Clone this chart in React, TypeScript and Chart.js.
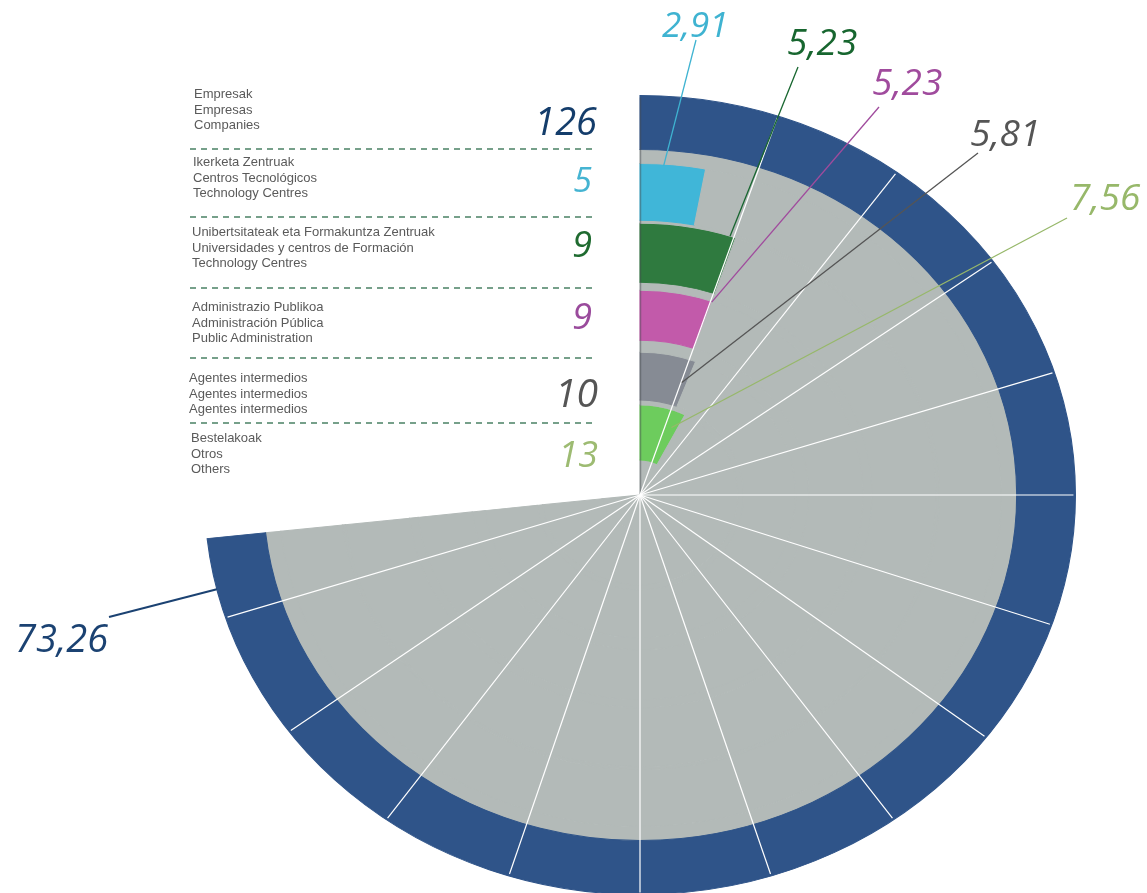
import React, { useEffect, useRef } from 'react';
import { Chart, registerables } from 'chart.js';

Chart.register(...registerables);

// ---------- data ----------
const categoryNames: string[][] = [
  ['Empresak', 'Empresas', 'Companies'],
  ['Ikerketa Zentruak', 'Centros Tecnológicos', 'Technology Centres'],
  ['Unibertsitateak eta Formakuntza Zentruak', 'Universidades y centros de Formación', 'Technology Centres'],
  ['Administrazio Publikoa', 'Administración Pública', 'Public Administration'],
  ['Agentes intermedios', 'Agentes intermedios', 'Agentes intermedios'],
  ['Bestelakoak', 'Otros', 'Others'],
];
const categoryCounts = [126, 5, 9, 9, 10, 13];
const sharePercent = [73.26, 2.91, 5.23, 5.23, 5.81, 7.56];
const shareLabels = ['73,26', '2,91', '5,23', '5,23', '5,81', '7,56'];
const fillColors = ['#2f5489', '#40b6d8', '#2f7a3f', '#c25aaa', '#868b94', '#6dcc5d'];
const textColors = ['#1b4272', '#3fb3d1', '#17662f', '#a04b9d', '#555555', '#97b86a'];
const countColors = ['#143d6b', '#45b4d2', '#1f6b30', '#9a4b9c', '#555555', '#9dbb72'];
const spokeAngles = [20, 38.5, 56.5, 73.5, 90, 107.5, 125, 142, 161, 180, 199, 218, 236, 253.5];

// ---------- layout / style ----------
const PAPER_GRAY = '#b3bab8';
const NONE = 'rgba(0,0,0,0)';
const STRETCH_X = 1.09;
// ring order (outer -> inner): category index or -1 for plain gray paper
const ringCategory = [0, -1, 1, -1, 2, -1, 3, -1, 4, -1, 5, -1];
const ringWeights = [54, 14, 57, 3, 59, 8, 50, 12, 48, 5, 55, 35];

const labelLayout = [
  { x: 15, base: 652, size: 38, from: [109, 617], f: 0.972, g: 1.0, lw: 2 },
  { x: 662, base: 37, size: 35, from: [696, 40], f: 0.36, g: 0.97, lw: 1.3 },
  { x: 787, base: 55, size: 37, from: [798, 67], f: 0.94, g: 1.0, lw: 1.3 },
  { x: 872, base: 95, size: 37, from: [879, 107], f: 1.0, g: 0.98, lw: 1.3 },
  { x: 970, base: 146, size: 37, from: [978, 153], f: 0.9, g: 0.5, lw: 1.3 },
  { x: 1070, base: 210, size: 37, from: [1067, 218], f: 0.85, g: 0.7, lw: 1.3 },
];

const legendTextTop = [86, 154, 224, 299, 370, 430];
const legendTextLeft = [194, 193, 192, 192, 189, 191];
const countBase = [135, 192, 258, 330, 407, 468];
const countSize = [38, 34, 36, 36, 39, 36];
const countRight = [597, 592, 592, 592, 598, 598];
const dashY = [148, 216, 287, 357, 422];

function buildDatasets() {
  const total = 100;
  const main = sharePercent[0];
  return ringCategory.map((cat, i) => {
    let data: number[];
    let colors: string[];
    if (cat === 0) {
      data = [main, total - main];
      colors = [fillColors[0], NONE];
    } else if (cat < 0) {
      data = [main, total - main];
      colors = [PAPER_GRAY, NONE];
    } else {
      data = [sharePercent[cat], main - sharePercent[cat], total - main];
      colors = [fillColors[cat], PAPER_GRAY, NONE];
    }
    return {
      data,
      backgroundColor: colors,
      borderColor: colors,
      borderWidth: 1,
      borderJoinStyle: 'miter',
      weight: ringWeights[i],
      clip: false as any,
      hoverOffset: 0,
    };
  });
}

const collagePlugin = {
  id: 'collage',
  beforeDatasetsDraw(chart: any) {
    const ctx = chart.ctx;
    const a = chart.chartArea;
    const cx = (a.left + a.right) / 2;
    const cy = (a.top + a.bottom) / 2;
    ctx.save();
    ctx.translate(cx, cy);
    ctx.scale(STRETCH_X, 1);
    ctx.translate(-cx, -cy);
  },
  afterDatasetsDraw(chart: any) {
    const ctx = chart.ctx;
    ctx.restore();
    const a = chart.chartArea;
    const cx = (a.left + a.right) / 2;
    const cy = (a.top + a.bottom) / 2;
    const outerArc = chart.getDatasetMeta(0).data[0];
    const R = outerArc.getProps(['outerRadius'], true).outerRadius;
    const rx = R * STRETCH_X - 2;
    const ry = R - 2;

    // faint shadow along the straight starting edge of the paper sector
    ctx.save();
    ctx.strokeStyle = 'rgba(70,75,80,0.45)';
    ctx.lineWidth = 1.5;
    ctx.beginPath();
    ctx.moveTo(cx + 0.5, cy);
    ctx.lineTo(cx + 0.5, cy - ry);
    ctx.stroke();
    ctx.restore();

    // white spokes
    ctx.save();
    ctx.strokeStyle = '#ffffff';
    ctx.lineWidth = 1.2;
    spokeAngles.forEach((deg) => {
      const t = (deg * Math.PI) / 180;
      const s = Math.sin(t);
      const c = Math.cos(t);
      const len = 1 / Math.sqrt((s / rx) ** 2 + (c / ry) ** 2);
      ctx.beginPath();
      ctx.moveTo(cx, cy);
      ctx.lineTo(cx + s * len, cy - c * len);
      ctx.stroke();
    });
    ctx.restore();

    // leader lines + percentage labels
    labelLayout.forEach((lay, k) => {
      const dsIndex = ringCategory.indexOf(k);
      const arc = chart.getDatasetMeta(dsIndex).data[0];
      const p = arc.getProps(['x', 'y', 'startAngle', 'endAngle', 'innerRadius', 'outerRadius'], true);
      const ang = p.startAngle + lay.f * (p.endAngle - p.startAngle);
      const r = p.innerRadius + lay.g * (p.outerRadius - p.innerRadius);
      const px = p.x + Math.cos(ang) * r;
      const py = p.y + Math.sin(ang) * r;
      const X = cx + (px - cx) * STRETCH_X;
      const Y = py;
      ctx.save();
      ctx.strokeStyle = textColors[k];
      ctx.lineWidth = lay.lw;
      ctx.beginPath();
      ctx.moveTo(lay.from[0], lay.from[1]);
      ctx.lineTo(X, Y);
      ctx.stroke();
      ctx.fillStyle = textColors[k];
      ctx.font = `italic ${lay.size}px "Open Sans", "DejaVu Sans", sans-serif`;
      ctx.textBaseline = 'alphabetic';
      ctx.textAlign = 'left';
      ctx.fillText(shareLabels[k], lay.x, lay.base);
      ctx.restore();
    });
  },
};

export default function App() {
  const canvasRef = useRef<HTMLCanvasElement | null>(null);

  useEffect(() => {
    if (!canvasRef.current) return;
    const R = 400;
    const cx = 640;
    const cy = 495;
    const W = 1147;
    const H = 900;
    const chart = new Chart(canvasRef.current, {
      type: 'doughnut',
      data: {
        labels: ['share', 'rest', 'none'],
        datasets: buildDatasets() as any,
      },
      options: {
        responsive: false,
        maintainAspectRatio: false,
        animation: false,
        devicePixelRatio: 1,
        cutout: 0,
        rotation: 0,
        circumference: 360,
        layout: {
          padding: { left: cx - R, right: W - (cx + R), top: cy - R, bottom: H - (cy + R) },
        },
        plugins: {
          legend: { display: false },
          tooltip: { enabled: false },
        },
        events: [],
      } as any,
      plugins: [collagePlugin],
    });
    return () => chart.destroy();
  }, []);

  const textFont = '"Liberation Sans", Arial, Helvetica, sans-serif';
  const numFont = '"Open Sans", "DejaVu Sans", sans-serif';

  return (
    <div
      style={{
        position: 'fixed',
        left: 0,
        top: 0,
        width: 1147,
        height: 893,
        overflow: 'hidden',
        background: '#ffffff',
      }}
    >
      <canvas ref={canvasRef} width={1147} height={900} style={{ position: 'absolute', left: 0, top: 0 }} />
      {categoryNames.map((lines, i) => (
        <div
          key={'t' + i}
          style={{
            position: 'absolute',
            left: legendTextLeft[i],
            top: legendTextTop[i],
            fontFamily: textFont,
            fontSize: 13,
            lineHeight: '15.5px',
            color: '#5a5a5a',
            whiteSpace: 'nowrap',
          }}
        >
          {lines.map((l, j) => (
            <div key={j}>{l}</div>
          ))}
        </div>
      ))}
      {categoryCounts.map((n, i) => (
        <div
          key={'n' + i}
          style={{
            position: 'absolute',
            right: 1147 - countRight[i],
            top: countBase[i] - 0.888 * countSize[i],
            fontFamily: numFont,
            fontStyle: 'italic',
            fontSize: countSize[i],
            lineHeight: countSize[i] + 'px',
            color: countColors[i],
            whiteSpace: 'nowrap',
          }}
        >
          {n}
        </div>
      ))}
      {dashY.map((y, i) => (
        <div
          key={'d' + i}
          style={{
            position: 'absolute',
            left: 190,
            top: y,
            width: 406,
            height: 1.5,
            background: 'repeating-linear-gradient(to right, #76a08a 0 6px, transparent 6px 11px)',
          }}
        />
      ))}
    </div>
  );
}
